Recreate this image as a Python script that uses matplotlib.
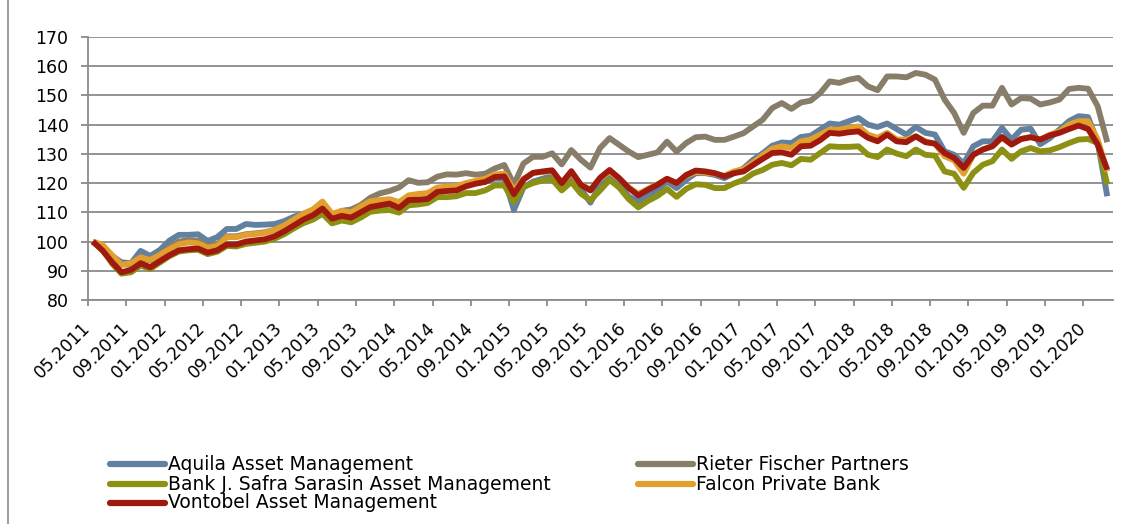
import matplotlib.pyplot as plt
from matplotlib.lines import Line2D

plt.rc('font', family='DejaVu Sans')

# monthly index values, 05.2011 .. 03.2020
aquila = [100, 98.3, 95.1, 92.9, 92.6, 96.8, 95.1, 97.1, 100.3, 102.3, 102.3, 102.5, 100.2, 101.5, 104.3, 104.3,
          106, 105.7, 105.8, 106, 107, 108.5, 109.5, 110.5, 112.5, 108.8, 109.8, 109.3, 111, 112.5, 112, 112.3,
          111.2, 113.5, 114, 114.5, 117.5, 118, 118, 119.5, 120, 120.5, 121.5, 121.5, 110.8, 118.5, 120.5, 121.5,
          122.5, 118.5, 122.5, 118, 113.3, 119.4, 122.8, 119.4, 115.4, 113.7, 116, 117.7, 120.5, 118.3, 121.1, 123.4,
          123.4, 122.8, 121.7, 123.4, 125.1, 128, 130.2, 132.8, 133.9, 133.7, 135.8, 136.2, 138.3, 140.4, 140, 141.2,
          142.3, 140, 139.2, 140.4, 138.5, 136.6, 139.2, 137.2, 136.6, 130.9, 129.7, 126.7, 132.6, 134.3, 134.3, 138.9,
          134.9, 138.3, 138.6, 133.3, 135.4, 138.3, 141.2, 142.9, 142.6, 134, 115.5]
rieter = [100, 98.5, 95, 92.3, 92, 94.5, 93.5, 95.5, 98, 100, 100.5, 100.3, 98.5, 99, 101.8, 101.8,
          102.5, 102.8, 103.2, 104, 105.5, 107.5, 109.3, 110.8, 112.5, 109, 110.5, 111, 112.5, 115, 116.5, 117.3,
          118.5, 121, 120.1, 120.3, 122.2, 123, 122.9, 123.4, 122.9, 123.2, 125, 126.2, 119.5, 126.7, 129, 129,
          130.2, 126.4, 131.3, 128, 125.3, 132, 135.4, 133.1, 130.8, 128.9, 129.7, 130.5, 134.2, 130.8, 133.7, 135.7,
          135.9, 134.8, 134.8, 135.9, 137.1, 139.4, 141.7, 145.7, 147.4, 145.4, 147.6, 148.2, 150.8, 154.8, 154.3, 155.4,
          156, 153.1, 151.8, 156.5, 156.5, 156.2, 157.7, 157.1, 155.4, 148.6, 144, 137.2, 144, 146.5, 146.5, 152.6,
          146.9, 149.1, 148.9, 146.9, 147.6, 148.6, 152.2, 152.6, 152.3, 146.3, 134]
sarasin = [100, 97.5, 92.5, 89, 89.5, 91.8, 90.6, 92.8, 95, 96.6, 97, 97.2, 95.7, 96.5, 98.5, 98.3,
           99.2, 99.6, 100, 101, 102.5, 104.5, 106.3, 107.5, 109.5, 106.2, 107.2, 106.6, 108.2, 110.2, 110.6, 110.8,
           109.9, 112.4, 112.7, 113.2, 115.2, 115.2, 115.5, 116.6, 116.6, 117.5, 119.2, 119.2, 113.5, 118.7, 120, 120.9,
           121.2, 117.5, 120.4, 116.4, 114.1, 117.5, 121.1, 118.5, 114.5, 111.7, 113.9, 115.6, 118, 115.3, 118, 119.6,
           119.4, 118.3, 118.3, 119.9, 121.1, 123.3, 124.5, 126.3, 126.9, 126.1, 128.3, 128, 130.3, 132.6, 132.4, 132.4,
           132.6, 129.7, 128.9, 131.5, 130.1, 129.2, 131.5, 129.7, 129.4, 124, 123.2, 118.4, 123.5, 126.3, 127.5, 131.5,
           128.3, 130.9, 132, 130.9, 131.2, 132.3, 133.7, 134.9, 135.1, 133.7, 119.5]
falcon = [100, 98.9, 95.4, 92, 92.6, 94.6, 93.7, 95.4, 97.4, 99.1, 99.7, 99.4, 97.9, 98.5, 101.5, 101.5,
          102.3, 102.6, 103, 104, 105.5, 107.5, 109.5, 111, 113.7, 109.5, 110.5, 110, 112, 113.8, 114.2, 114.5,
          113.5, 115.8, 116.3, 116.6, 118.5, 118.8, 119, 120, 120.8, 121.5, 123, 123.2, 117.5, 121.5, 123.5, 123.8,
          124, 120.3, 123.5, 119.5, 117.8, 121.5, 124, 121.5, 118.5, 116.3, 118, 119.6, 121.4, 120, 122.5, 123.8,
          123.6, 123.2, 122.5, 124, 124.8, 127, 129.5, 131.8, 132.6, 132, 134.3, 134.9, 136.6, 138.3, 138.3, 138.9,
          139.4, 136.6, 135.5, 137.2, 134.9, 134.9, 136, 134.3, 133.5, 129.2, 127.8, 123.2, 129.7, 131.5, 132.6, 135.5,
          133.2, 135.1, 135.8, 134.9, 136.6, 137.7, 140, 141.2, 141.2, 134.9, 124]
vontobel = [100, 97, 93, 89.5, 90.3, 92.6, 91.2, 93.3, 95.3, 97, 97.4, 97.6, 96.2, 97, 99, 99,
            100, 100.4, 100.8, 101.8, 103.5, 105.5, 107.5, 109, 111.3, 107.8, 108.8, 108.2, 110, 111.8, 112.4, 113,
            111.5, 114.2, 114.3, 114.6, 117, 117.3, 117.5, 118.9, 119.8, 120.4, 122.1, 122.3, 116.2, 121.2, 123.5, 124,
            124.4, 120, 124.1, 119.4, 117.5, 121.8, 124.5, 121.7, 118.3, 115.8, 117.7, 119.4, 121.5, 120, 122.8, 124.3,
            124, 123.4, 122.3, 123.4, 124, 126.2, 128.3, 130.3, 130.5, 129.7, 132.6, 132.8, 134.7, 137.2, 136.9, 137.4,
            137.7, 135.5, 134.3, 136.6, 134.3, 134, 136, 134, 133.5, 130.3, 128.6, 125.2, 129.7, 131.5, 132.6, 135.8,
            133.2, 135.1, 135.7, 134.9, 136.3, 137.2, 138.5, 139.7, 138.5, 133.2, 124.6]

names = ['Aquila Asset Management', 'Rieter Fischer Partners', 'Bank J. Safra Sarasin Asset Management',
         'Falcon Private Bank', 'Vontobel Asset Management']
series = [aquila, rieter, sarasin, falcon, vontobel]
colors = ['#62809f', '#877d69', '#8c9114', '#e1a02d', '#a0190f']

n = len(aquila)
labels = []
for k in range(n):
    m = 4 + k
    labels.append('%02d.%d' % (m % 12 + 1, 2011 + m // 12))

W, H = 1148, 524
fig = plt.figure(figsize=(W / 100, H / 100), dpi=100)
ax = fig.add_axes([88 / W, 1 - 300 / H, (1113 - 88) / W, (300 - 37) / H])

x = list(range(n))
for s, c in zip(series, colors):
    ax.plot(x, s, color=c, lw=4.2, solid_joinstyle='round', solid_capstyle='butt')

grid_c = '#8a8a8a'
ax.set_xlim(-0.5, n - 0.4)
ax.set_ylim(80, 170)
ax.set_yticks(range(80, 171, 10))
ax.grid(axis='y', color=grid_c, lw=1.3)
ax.set_axisbelow(True)
for sp in ['top', 'right']:
    ax.spines[sp].set_visible(False)
for sp in ['left', 'bottom']:
    ax.spines[sp].set_color(grid_c)
    ax.spines[sp].set_linewidth(1.3)

tick_pos = [k - 0.5 for k in range(0, n, 4)]
ax.set_xticks(tick_pos)
ax.set_xticklabels([labels[k] for k in range(0, n, 4)], rotation=45, ha='right',
                   va='center', rotation_mode='anchor')
ax.tick_params(axis='x', length=4, color=grid_c, width=1.3, pad=14, labelsize=12.3)
ax.tick_params(axis='y', length=5, color=grid_c, width=1.3, pad=9, labelsize=12.5)

# outer frame line on the left
fig.add_artist(Line2D([8 / W, 8 / W], [0, 1], transform=fig.transFigure, color='#a0a0a0', lw=1.5))

# legend, two columns
slots = [(110, 464), (638, 464), (110, 484), (638, 484), (110, 503)]
for (lx, ly), name, c in zip(slots, names, colors):
    fig.add_artist(Line2D([lx / W, (lx + 55) / W], [1 - ly / H] * 2, transform=fig.transFigure,
                          color=c, lw=4.5, solid_capstyle='round'))
    fig.text((lx + 58) / W, 1 - ly / H, name, fontsize=13.5, va='center', ha='left')

fig.savefig('out.png', dpi=100)
